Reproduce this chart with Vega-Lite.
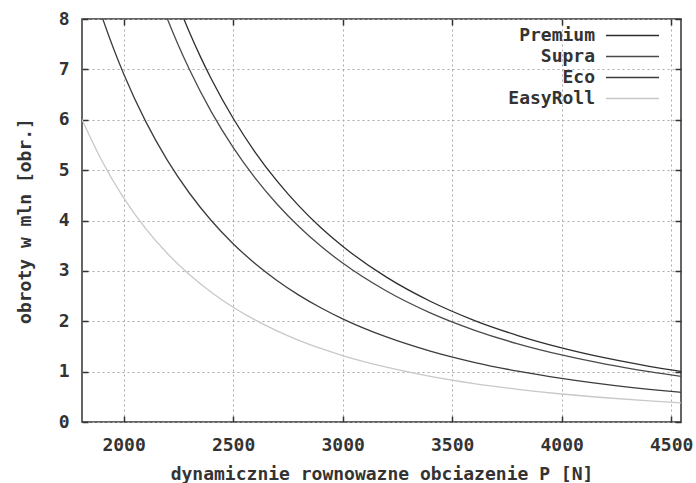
{
  "$schema": "https://vega.github.io/schema/vega-lite/v6.json",
  "width": 599,
  "height": 403,
  "autosize": "none",
  "padding": {"left": 82, "top": 19, "right": 15, "bottom": 61},
  "background": "white",
  "config": {
    "font": "DejaVu Sans Mono",
    "view": {"stroke": "#333", "strokeWidth": 1.5},
    "axis": {
      "labelFont": "DejaVu Sans Mono", "labelFontWeight": "bold", "labelFontSize": 18, "labelColor": "#333",
      "titleFont": "DejaVu Sans Mono", "titleFontWeight": "bold", "titleFontSize": 18, "titleColor": "#333",
      "domain": false, "tickColor": "#333", "tickWidth": 1.5, "tickSize": -6,
      "gridColor": "#aaa", "gridDash": [2, 3], "gridWidth": 1
    },
    "legend": {
      "labelFont": "DejaVu Sans Mono", "labelFontWeight": "bold", "labelFontSize": 18, "labelColor": "#333"
    }
  },
  "data": {"values": [
    {"P": 2250, "L": 8.270, "s": "Premium"}, {"P": 2300, "L": 7.742, "s": "Premium"}, {"P": 2350, "L": 7.258, "s": "Premium"},
    {"P": 2400, "L": 6.814, "s": "Premium"}, {"P": 2500, "L": 6.029, "s": "Premium"}, {"P": 2600, "L": 5.359, "s": "Premium"},
    {"P": 2700, "L": 4.786, "s": "Premium"}, {"P": 2800, "L": 4.291, "s": "Premium"}, {"P": 2900, "L": 3.862, "s": "Premium"},
    {"P": 3000, "L": 3.489, "s": "Premium"}, {"P": 3200, "L": 2.875, "s": "Premium"}, {"P": 3400, "L": 2.397, "s": "Premium"},
    {"P": 3600, "L": 2.019, "s": "Premium"}, {"P": 3800, "L": 1.717, "s": "Premium"}, {"P": 4000, "L": 1.472, "s": "Premium"},
    {"P": 4200, "L": 1.271, "s": "Premium"}, {"P": 4400, "L": 1.106, "s": "Premium"}, {"P": 4550, "L": 1.0, "s": "Premium"},
    {"P": 2150, "L": 8.571, "s": "Supra"}, {"P": 2200, "L": 8.0, "s": "Supra"}, {"P": 2250, "L": 7.478, "s": "Supra"},
    {"P": 2300, "L": 7.001, "s": "Supra"}, {"P": 2400, "L": 6.162, "s": "Supra"}, {"P": 2500, "L": 5.452, "s": "Supra"},
    {"P": 2600, "L": 4.847, "s": "Supra"}, {"P": 2700, "L": 4.328, "s": "Supra"}, {"P": 2800, "L": 3.881, "s": "Supra"},
    {"P": 2900, "L": 3.493, "s": "Supra"}, {"P": 3000, "L": 3.155, "s": "Supra"}, {"P": 3200, "L": 2.600, "s": "Supra"},
    {"P": 3400, "L": 2.167, "s": "Supra"}, {"P": 3600, "L": 1.826, "s": "Supra"}, {"P": 3800, "L": 1.552, "s": "Supra"},
    {"P": 4000, "L": 1.331, "s": "Supra"}, {"P": 4200, "L": 1.150, "s": "Supra"}, {"P": 4400, "L": 1.0, "s": "Supra"},
    {"P": 4550, "L": 0.904, "s": "Supra"},
    {"P": 1850, "L": 8.735, "s": "Eco"}, {"P": 1900, "L": 8.063, "s": "Eco"}, {"P": 1950, "L": 7.459, "s": "Eco"},
    {"P": 2000, "L": 6.913, "s": "Eco"}, {"P": 2100, "L": 5.972, "s": "Eco"}, {"P": 2200, "L": 5.194, "s": "Eco"},
    {"P": 2300, "L": 4.546, "s": "Eco"}, {"P": 2400, "L": 4.001, "s": "Eco"}, {"P": 2500, "L": 3.540, "s": "Eco"},
    {"P": 2600, "L": 3.147, "s": "Eco"}, {"P": 2700, "L": 2.810, "s": "Eco"}, {"P": 2800, "L": 2.519, "s": "Eco"},
    {"P": 2900, "L": 2.268, "s": "Eco"}, {"P": 3000, "L": 2.048, "s": "Eco"}, {"P": 3200, "L": 1.688, "s": "Eco"},
    {"P": 3400, "L": 1.407, "s": "Eco"}, {"P": 3600, "L": 1.185, "s": "Eco"}, {"P": 3800, "L": 1.008, "s": "Eco"},
    {"P": 4000, "L": 0.864, "s": "Eco"}, {"P": 4200, "L": 0.746, "s": "Eco"}, {"P": 4400, "L": 0.649, "s": "Eco"},
    {"P": 4550, "L": 0.587, "s": "Eco"},
    {"P": 1810, "L": 6.006, "s": "EasyRoll"}, {"P": 1900, "L": 5.192, "s": "EasyRoll"}, {"P": 2000, "L": 4.451, "s": "EasyRoll"},
    {"P": 2100, "L": 3.845, "s": "EasyRoll"}, {"P": 2200, "L": 3.344, "s": "EasyRoll"}, {"P": 2300, "L": 2.927, "s": "EasyRoll"},
    {"P": 2400, "L": 2.576, "s": "EasyRoll"}, {"P": 2500, "L": 2.279, "s": "EasyRoll"}, {"P": 2600, "L": 2.026, "s": "EasyRoll"},
    {"P": 2700, "L": 1.809, "s": "EasyRoll"}, {"P": 2800, "L": 1.622, "s": "EasyRoll"}, {"P": 2900, "L": 1.460, "s": "EasyRoll"},
    {"P": 3000, "L": 1.319, "s": "EasyRoll"}, {"P": 3200, "L": 1.087, "s": "EasyRoll"}, {"P": 3400, "L": 0.906, "s": "EasyRoll"},
    {"P": 3600, "L": 0.763, "s": "EasyRoll"}, {"P": 3800, "L": 0.649, "s": "EasyRoll"}, {"P": 4000, "L": 0.556, "s": "EasyRoll"},
    {"P": 4200, "L": 0.481, "s": "EasyRoll"}, {"P": 4400, "L": 0.418, "s": "EasyRoll"}, {"P": 4550, "L": 0.378, "s": "EasyRoll"}
  ]},
  "layer": [
    {
      "mark": {"type": "line", "interpolate": "monotone", "clip": true, "strokeWidth": 1.3},
      "encoding": {
        "x": {"field": "P", "type": "quantitative", "scale": {"domain": [1810, 4545], "nice": false, "zero": false},
          "axis": {"values": [2000, 2500, 3000, 3500, 4000, 4500], "format": "d", "title": "dynamicznie rownowazne obciazenie P [N]",
            "labelPadding": 20, "titlePadding": 11, "orient": "bottom"}},
        "y": {"field": "L", "type": "quantitative", "scale": {"domain": [0, 8], "nice": false},
          "axis": {"values": [0, 1, 2, 3, 4, 5, 6, 7, 8], "format": "d", "title": "obroty w mln [obr.]", "labelPadding": 19, "titlePadding": 24, "orient": "left"}},
        "color": {"field": "s", "type": "nominal",
          "scale": {"domain": ["Premium", "Supra", "Eco", "EasyRoll"], "range": ["#2e2e2e", "#4a4a4a", "#3c3c3c", "#c8c8c8"]},
          "legend": {"title": null, "orient": "none", "legendX": 539, "legendY": 5, "symbolType": "M-2.5,0H2.5", "symbolSize": 450,
            "symbolStrokeWidth": 1.3, "symbolFillColor": "transparent", "labelAlign": "right", "labelOffset": -49, "rowPadding": -0.5}}
      }
    },
    {
      "mark": {"type": "line", "opacity": 0},
      "encoding": {
        "x": {"field": "P", "type": "quantitative", "axis": {"orient": "top", "values": [2000, 2500, 3000, 3500, 4000, 4500], "labels": false, "title": null, "grid": false}},
        "y": {"field": "L", "type": "quantitative", "axis": {"orient": "right", "values": [0, 1, 2, 3, 4, 5, 6, 7, 8], "labels": false, "title": null, "grid": false}}
      }
    }
  ],
  "resolve": {"axis": {"x": "independent", "y": "independent"}}
}
